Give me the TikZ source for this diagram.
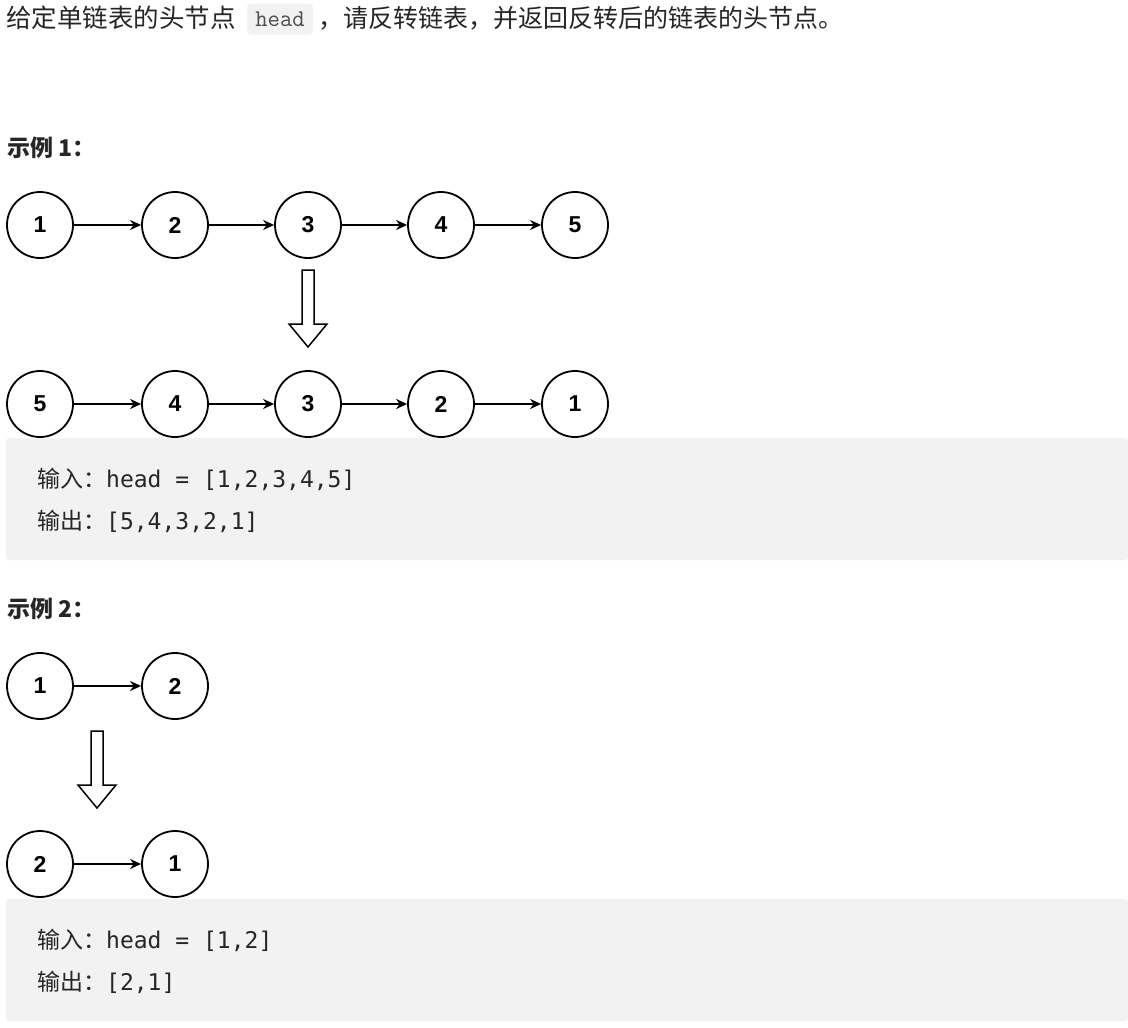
\documentclass[tikz,border=0pt]{standalone}
\usepackage{fontspec}
\setmainfont{Liberation Sans}
\setmonofont{DejaVu Sans Mono}
\newfontfamily\cjk{Noto Sans CJK SC}
\newfontfamily\lmmono{Latin Modern Mono}
\begin{document}
\begin{tikzpicture}[x=1pt,y=-1pt,
  lnode/.style={circle,draw,line width=1.8pt,minimum size=66pt,inner sep=0pt,font=\fontsize{23}{26}\selectfont\bfseries},
  lnk/.style={-{Stealth[length=11pt,width=10pt]},line width=1.6pt},
  hol/.style={draw,line width=1.5pt,fill=white,line join=miter},
  codebox/.style={fill=black!5,draw=none,rounded corners=3pt},
  txt/.style={anchor=west,inner sep=0pt,text=black!85},
  code/.style={txt,font=\cjk\fontsize{23}{26}\selectfont}]
\useasboundingbox (0,0) rectangle (1128,1028);
\usetikzlibrary{arrows.meta}
\node[txt,font=\cjk\fontsize{25.5}{28}\selectfont] (t1) at (6,18) {给定单链表的头节点};
\node[fill=black!5,rounded corners=4pt,minimum width=66pt,minimum height=31pt,inner sep=0pt,font=\lmmono\fontsize{24}{26}\selectfont,text=black!70] (hd) at (280,19) {head};
\node[txt,font=\cjk\fontsize{25}{28}\selectfont] (t2) at (318,18) {，请反转链表，并返回反转后的链表的头节点。};
\node[txt,font=\cjk\fontsize{23}{26}\selectfont\bfseries] (e1) at (7,148) {示例 \textbf{1}：};
% row 1
\foreach \v/\x [count=\i] in {1/40,2/175,3/308,4/441,5/575}{\node[lnode] (a\i) at (\x,225) {\v};}
\foreach \v/\x [count=\i] in {5/40,4/175,3/308,2/441,1/575}{\node[lnode] (b\i) at (\x,404) {\v};}
\foreach \i/\j in {1/2,2/3,3/4,4/5}{\draw[lnk] (a\i) -- (a\j); \draw[lnk] (b\i) -- (b\j);}
\draw[hol] (302,270) -- (314,270) -- (314,324) -- (327,324) -- (308,347) -- (289,324) -- (302,324) -- cycle;
\node[codebox,minimum width=1122pt,minimum height=122pt,inner sep=0pt] (c1) at (567,499) {};
\node[code] (i1) at (37,479) {输入：\texttt{head = [1,2,3,4,5]}};
\node[code] (o1) at (37,521) {输出：\texttt{[5,4,3,2,1]}};
\node[txt,font=\cjk\fontsize{23}{26}\selectfont\bfseries] (e2) at (7,609) {示例 \textbf{2}：};
% example 2
\node[lnode] (p1) at (40,686) {1};
\node[lnode] (p2) at (175,686) {2};
\node[lnode] (q1) at (40,864) {2};
\node[lnode] (q2) at (175,864) {1};
\draw[lnk] (p1) -- (p2);
\draw[lnk] (q1) -- (q2);
\draw[hol] (91,731) -- (103,731) -- (103,785) -- (116,785) -- (97,808) -- (78,785) -- (91,785) -- cycle;
\node[codebox,minimum width=1122pt,minimum height=122pt,inner sep=0pt] (c2) at (567,960) {};
\node[code] (i2) at (37,940) {输入：\texttt{head = [1,2]}};
\node[code] (o2) at (37,982) {输出：\texttt{[2,1]}};
\end{tikzpicture}
\end{document}
